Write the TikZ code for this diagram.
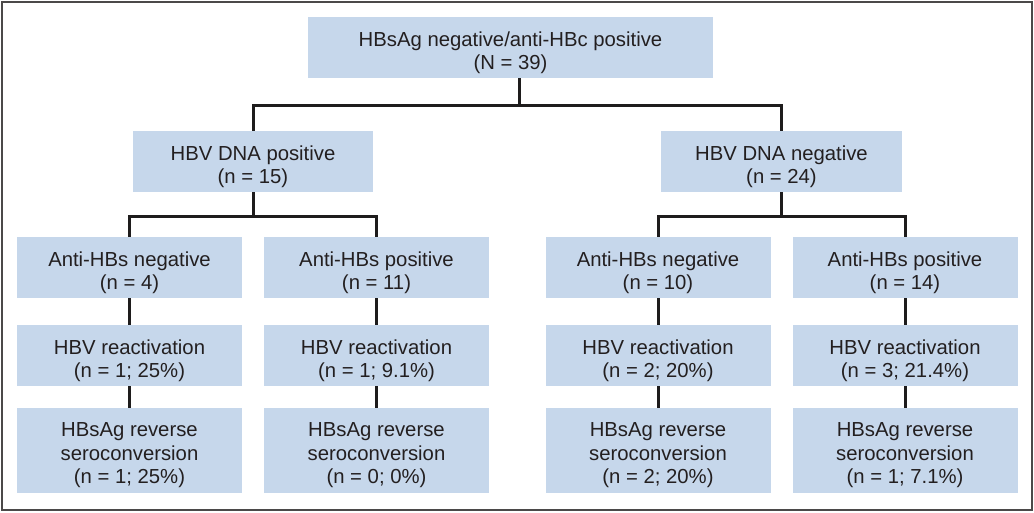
\documentclass[tikz,border=0pt]{standalone}
\usepackage{fontspec}
\setmainfont{Liberation Sans}
\definecolor{boxfill}{RGB}{198,215,235}
\definecolor{txt}{RGB}{35,31,32}
\definecolor{ln}{RGB}{30,28,28}
\begin{document}
\begin{tikzpicture}[x=1pt,y=-1pt,
  box/.style={fill=boxfill,draw=none,inner sep=0pt,minimum height=61pt},
  lbl/.style={inner sep=0pt,align=center,text=txt,yshift=-5pt,
    font=\fontsize{20.3}{23.5}\selectfont},
  conn/.style={draw=ln,line width=3pt},
]
\useasboundingbox (0,0) rectangle (1034,512);
\fill[white] (0,0) rectangle (1034,512);
\node[draw=ln!80,line width=1.5pt,minimum width=1030pt,minimum height=508pt,inner sep=0pt] (frame) at (517,256) {};

\node[box,minimum width=405pt,label={[lbl]center:HBsAg negative/anti-HBc positive\\(N = 39)}] (top) at (510.5,47.5) {};
\node[box,minimum width=240pt,label={[lbl]center:HBV DNA positive\\(n = 15)}] (pa) at (253,161.5) {};
\node[box,minimum width=241pt,label={[lbl]center:HBV DNA negative\\(n = 24)}] (pb) at (781.5,161.5) {};

\node[box,minimum width=225pt,label={[lbl]center:Anti-HBs negative\\(n = 4)}] (a1) at (129.5,267.5) {};
\node[box,minimum width=225pt,label={[lbl]center:Anti-HBs positive\\(n = 11)}] (b1) at (376.5,267.5) {};
\node[box,minimum width=225pt,label={[lbl]center:Anti-HBs negative\\(n = 10)}] (c1) at (658,267.5) {};
\node[box,minimum width=225pt,label={[lbl]center:Anti-HBs positive\\(n = 14)}] (d1) at (905,267.5) {};

\node[box,minimum width=225pt,label={[lbl]center:HBV reactivation\\(n = 1; 25\%)}] (a2) at (129.5,355.5) {};
\node[box,minimum width=225pt,label={[lbl]center:HBV reactivation\\(n = 1; 9.1\%)}] (b2) at (376.5,355.5) {};
\node[box,minimum width=225pt,label={[lbl]center:HBV reactivation\\(n = 2; 20\%)}] (c2) at (658,355.5) {};
\node[box,minimum width=225pt,label={[lbl]center:HBV reactivation\\(n = 3; 21.4\%)}] (d2) at (905,355.5) {};

\node[box,minimum width=225pt,minimum height=85pt,label={[lbl]center:HBsAg reverse\\seroconversion\\(n = 1; 25\%)}] (a3) at (129.5,450.5) {};
\node[box,minimum width=225pt,minimum height=85pt,label={[lbl]center:HBsAg reverse\\seroconversion\\(n = 0; 0\%)}] (b3) at (376.5,450.5) {};
\node[box,minimum width=225pt,minimum height=85pt,label={[lbl]center:HBsAg reverse\\seroconversion\\(n = 2; 20\%)}] (c3) at (658,450.5) {};
\node[box,minimum width=225pt,minimum height=85pt,label={[lbl]center:HBsAg reverse\\seroconversion\\(n = 1; 7.1\%)}] (d3) at (905,450.5) {};

\coordinate (tj) at (519,105);
\coordinate (ja) at (253,216);
\coordinate (jb) at (781.5,216);

\draw[conn] (top.south -| tj) -- (tj);
\draw[conn] (pa.north) |- (tj) -| (pb.north);
\draw[conn] (pa.south) -- (ja);
\draw[conn] (a1.north) |- (ja) -| (b1.north);
\draw[conn] (pb.south) -- (jb);
\draw[conn] (c1.north) |- (jb) -| (d1.north);

\foreach \c in {a,b,c,d}{
  \draw[conn] (\c1.south) -- (\c2.north);
  \draw[conn] (\c2.south) -- (\c3.north);
}
\end{tikzpicture}
\end{document}
